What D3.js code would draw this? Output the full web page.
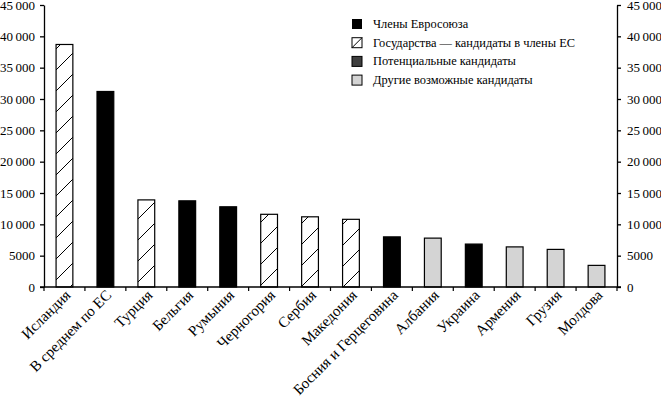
<!DOCTYPE html>
<html>
<head>
<meta charset="utf-8">
<script src="https://cdn.jsdelivr.net/npm/d3@7"></script>
<style>
  body { margin: 0; background: #fff; }
  svg { display: block; }
  text { font-family: "Liberation Serif", "DejaVu Serif", serif; fill: #000; }
</style>
</head>
<body>
<svg id="chart" width="661" height="397"></svg>
<script>

// countries, left to right
var countries = ["Исландия", "В среднем по ЕС", "Турция", "Бельгия", "Румыния", "Черногория",
  "Сербия", "Македония", "Босния и Герцеговина", "Албания", "Украина", "Армения", "Грузия", "Молдова"];

var values = [38700, 31200, 13900, 13750, 12800, 11600, 11200, 10800, 8000, 7800, 6850, 6400, 6000, 3450];

// 0 = member, 1 = candidate (hatched), 2 = potential, 3 = other possible
var groups = [1, 0, 1, 0, 0, 1, 1, 1, 0, 3, 0, 3, 3, 3];

var legendLabels = ["Члены Евросоюза", "Государства — кандидаты в члены ЕС",
  "Потенциальные кандидаты", "Другие возможные кандидаты"];

var yTicks = [0, 5000, 10000, 15000, 20000, 25000, 30000, 35000, 40000, 45000];



(function drawChart() {

  var svg = d3.select("#chart");
  var mLeft = 44, mRight = 617, mTop = 5, mBottom = 287;
  var fills = ["#000", "url(#hatch)", "#3f3f3f", "#d4d4d4"];


  var defs = svg.append("defs");
  var pat = defs.append("pattern")
    .attr("id", "hatch")
    .attr("patternUnits", "userSpaceOnUse")
    .attr("width", 21).attr("height", 21);
  pat.append("rect").attr("width", 21).attr("height", 21).attr("fill", "#fff");
  pat.append("path")
    .attr("d", "M0,21 L21,0 M-3,3 L3,-3 M18,24 L24,18")
    .attr("stroke", "#000").attr("stroke-width", 1);


  var x = d3.scaleBand().domain(countries).range([mLeft, mRight]).paddingInner(0).paddingOuter(0);
  var y = d3.scaleLinear().domain([0, 45000]).range([mBottom, mTop]);

  function fmt(v) {
    var s = String(v);
    return v >= 10000 ? s.slice(0, 2) + "\u2009" + s.slice(2) : s;
  }


  // bars
  var barW = x.bandwidth() * 0.41;
  svg.append("g").selectAll("rect").data(values).enter().append("rect")
    .attr("x", function(d, i){ return x(countries[i]) + (x.bandwidth() - barW) / 2; })
    .attr("y", function(d){ return y(d); })
    .attr("width", barW)
    .attr("height", function(d){ return mBottom - y(d); })
    .attr("fill", function(d, i){ return fills[groups[i]]; })
    .attr("stroke", "#000")
    .attr("stroke-width", 1.2);


  // left axis
  var yl = svg.append("g").attr("transform", "translate(" + mLeft + ",0)")
    .call(d3.axisLeft(y).tickValues(yTicks).tickSize(4).tickSizeOuter(0).tickFormat(fmt));

  // right axis
  var yr = svg.append("g").attr("transform", "translate(" + mRight + ",0)")
    .call(d3.axisRight(y).tickValues(yTicks).tickSize(4).tickSizeOuter(0).tickFormat(fmt));

  [yl, yr].forEach(function(g) {
    g.selectAll("text").attr("font-size", 13).attr("font-family", "Liberation Serif, serif");
    g.selectAll("path, line").attr("stroke", "#000").attr("stroke-width", 1.3);
  });
  yl.selectAll("text").attr("x", -9);
  yr.selectAll("text").attr("x", 10);


  // bottom axis, ticks at the category boundaries
  var bounds = d3.range(countries.length + 1).map(function(i){ return mLeft + i * x.bandwidth(); });
  var xg = svg.append("g");
  xg.append("line").attr("x1", mLeft - 4).attr("x2", mRight + 4)
    .attr("y1", mBottom).attr("y2", mBottom)
    .attr("stroke", "#000").attr("stroke-width", 1.3);
  xg.selectAll("line.tick").data(bounds).enter().append("line")
    .attr("class", "tick")
    .attr("x1", function(d){ return d; }).attr("x2", function(d){ return d; })
    .attr("y1", mBottom).attr("y2", mBottom + 4)
    .attr("stroke", "#000").attr("stroke-width", 1.2);

  xg.selectAll("text").data(countries).enter().append("text")
    .attr("transform", function(d){
      return "translate(" + (x(d) + x.bandwidth() / 2 + 7) + "," + (mBottom + 9) + ") rotate(-45)";
    })
    .attr("text-anchor", "end")
    .attr("font-size", 15)
    .text(function(d){ return d; });


  // legend
  var lg = svg.append("g").attr("transform", "translate(352,19)");
  var rows = lg.selectAll("g").data(legendLabels).enter().append("g")
    .attr("transform", function(d, i){ return "translate(0," + (i * 18.7) + ")"; });
  rows.append("rect")
    .attr("width", 10).attr("height", 10)
    .attr("fill", function(d, i){ return i === 1 ? "#fff" : fills[i]; })
    .attr("stroke", "#000").attr("stroke-width", function(d, i){ return i === 0 ? 0 : 1; });
  // the hatch is too coarse for a 10px box, so one stroke stands in for it
  rows.filter(function(d, i){ return i === 1; }).append("line")
    .attr("x1", 0).attr("y1", 10).attr("x2", 10).attr("y2", 0)
    .attr("stroke", "#000").attr("stroke-width", 1);
  rows.append("text")
    .attr("x", 21).attr("y", 9)
    .attr("font-size", 12.4)
    .text(function(d){ return d; });

})();

</script>
</body>
</html>
